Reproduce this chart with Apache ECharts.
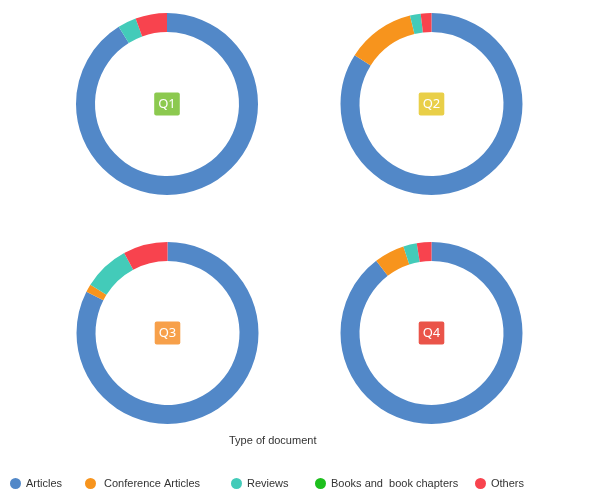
<!DOCTYPE html>
<html><head><meta charset="utf-8">
<script src="https://cdn.jsdelivr.net/npm/echarts@6/dist/echarts.min.js"></script>
<style>html,body{margin:0;padding:0;background:#fff}#c{width:597px;height:490px}</style>
</head><body><div id="c"></div>
<script>
const categories = ['Articles', 'Conference Articles', 'Reviews', 'Books and  book chapters', 'Others'];
const q1 = [91.1, 0, 3.3, 0, 5.6];
const q2 = [84.0, 12.2, 1.9, 0, 1.9];
const q3 = [82.5, 1.4, 8.2, 0, 7.9];
const q4 = [89.7, 5.4, 2.4, 0, 2.6];
const quarterLabels = ['Q1', 'Q2', 'Q3', 'Q4'];
const quarterData = [q1, q2, q3, q4];

const colors = ['#5288c8', '#f7941d', '#43cbb9', '#1dbf1d', '#f8434e'];
const labelColors = ['#8cc94f', '#e9cf48', '#f7a04a', '#ea5449'];
const centers = [[167, 104], [431.5, 104], [167.5, 333], [431.5, 333]];
const font = '"Liberation Sans", Arial, sans-serif';

const chart = echarts.init(document.getElementById('c'));
const legendLefts = [10, 85, 231, 315, 475];
const option = {
  animation: false,
  color: colors,
  title: {
    text: 'Type of document', left: 229, top: 435, padding: 0,
    textStyle: { fontSize: 11, fontWeight: 'normal', color: '#333', fontFamily: font }
  },
  legend: categories.map((c, i) => ({
    data: [c], left: legendLefts[i], top: 478, padding: 0, icon: 'circle',
    itemWidth: 11, itemHeight: 11, selectedMode: false,
    formatter: i === 1 ? ' {name}' : '{name}',
    textStyle: { fontSize: 11, color: '#333', fontFamily: font }
  })),
  series: quarterData.map((d, qi) => ({
    type: 'pie', center: centers[qi], radius: [72, 91],
    startAngle: 90, clockwise: true, silent: true,
    label: { show: false }, labelLine: { show: false },
    itemStyle: { borderWidth: 0 },
    data: categories.map((c, i) => ({ name: c, value: d[i] }))
  })),
  graphic: quarterLabels.map((t, qi) => ({
    type: 'text', x: centers[qi][0], y: centers[qi][1],
    style: {
      text: t, fill: '#fff', fontSize: 13, fontFamily: '"Noto Sans", sans-serif',
      align: 'center', verticalAlign: 'middle', lineHeight: 15,
      backgroundColor: labelColors[qi], padding: [4, 4, 4, 4], borderRadius: 2
    }
  }))
};
chart.setOption(option);
</script></body></html>
